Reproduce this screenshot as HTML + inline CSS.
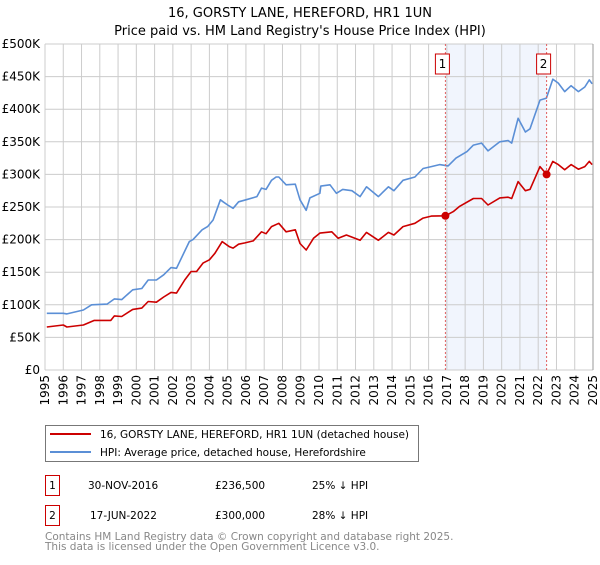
<!DOCTYPE html>
<html><head><meta charset="utf-8"><style>
body{margin:0;background:#fff;font-family:"Liberation Sans","DejaVu Sans",sans-serif;}
svg text{font-family:"DejaVu Sans","Liberation Sans",sans-serif;}
</style></head><body>
<svg id="chart" width="600" height="560" xmlns="http://www.w3.org/2000/svg">
<text x="300" y="17" text-anchor="middle" font-size="13">16, GORSTY LANE, HEREFORD, HR1 1UN</text>
<text x="300" y="35" text-anchor="middle" font-size="13">Price paid vs. HM Land Registry's House Price Index (HPI)</text>
<g id="plot"></g>
<g>
<rect x="45.5" y="425.5" width="373" height="36" fill="#fff" stroke="#777"/>
<line x1="50" y1="434" x2="91" y2="434" stroke="#cc0000" stroke-width="2"/>
<text x="100" y="438" font-size="10.5">16, GORSTY LANE, HEREFORD, HR1 1UN (detached house)</text>
<line x1="50" y1="452" x2="91" y2="452" stroke="#5b8fd6" stroke-width="2"/>
<text x="100" y="456" font-size="10.5">HPI: Average price, detached house, Herefordshire</text>
</g>
<g font-size="10.5">
<rect x="45.5" y="475.5" width="14" height="20" fill="#fff" stroke="#cc0000"/>
<text x="52.5" y="489" text-anchor="middle">1</text>
<text x="88" y="489">30-NOV-2016</text>
<text x="215" y="489">£236,500</text>
<text x="312" y="489">25% ↓ HPI</text>
</g>
<g font-size="10.5">
<rect x="45.5" y="505.5" width="14" height="20" fill="#fff" stroke="#cc0000"/>
<text x="52.5" y="519" text-anchor="middle">2</text>
<text x="90" y="519">17-JUN-2022</text>
<text x="215" y="519">£300,000</text>
<text x="312" y="519">28% ↓ HPI</text>
</g>
<text x="45" y="540" font-size="10.5" fill="#888">Contains HM Land Registry data © Crown copyright and database right 2025.</text>
<text x="45" y="550" font-size="10.5" fill="#888">This data is licensed under the Open Government Licence v3.0.</text>
</svg>
<script>
const hpiYears=[1995.1,1996.0,1996.2,1997.1,1997.55,1998.4,1998.8,1999.2,1999.8,2000.3,2000.65,2001.1,2001.5,2001.9,2002.2,2002.9,2003.1,2003.6,2003.9,2004.2,2004.6,2004.75,2005.0,2005.3,2005.6,2006.0,2006.6,2006.85,2007.1,2007.4,2007.65,2007.8,2008.2,2008.7,2008.96,2009.3,2009.5,2010.05,2010.1,2010.6,2010.95,2011.3,2011.8,2012.25,2012.6,2013.25,2013.8,2014.1,2014.6,2015.25,2015.7,2016.15,2016.6,2017.07,2017.5,2018.1,2018.45,2018.9,2019.25,2019.9,2020.35,2020.55,2020.9,2021.3,2021.55,2022.1,2022.45,2022.8,2023.1,2023.45,2023.8,2024.2,2024.55,2024.8,2024.95];
const hpiValues=[87,87,86,92,100,101,109,108,123,125,138,138,146,157,156,197,200,215,220,230,261,258,253,248,258,261,266,279,277,291,296,296,284,285,261,245,264,271,282,284,271,277,275,266,281,266,281,275,291,296,309,312,315,313,325,335,345,348,336,350,352,348,386,365,370,414,417,446,440,427,436,427,434,445,439];
const redYears=[1995.1,1996.0,1996.2,1997.1,1997.7,1998.6,1998.8,1999.2,1999.8,2000.3,2000.65,2001.1,2001.5,2001.9,2002.2,2002.65,2003.0,2003.3,2003.65,2004.0,2004.3,2004.7,2005.1,2005.3,2005.6,2005.95,2006.4,2006.85,2007.1,2007.4,2007.8,2008.2,2008.7,2008.96,2009.3,2009.7,2010.05,2010.7,2011.05,2011.5,2012.25,2012.6,2013.25,2013.8,2014.1,2014.6,2015.25,2015.7,2016.15,2016.92,2017.35,2017.7,2018.45,2018.9,2019.25,2019.9,2020.35,2020.55,2020.9,2021.3,2021.55,2022.1,2022.46,2022.8,2023.1,2023.45,2023.8,2024.2,2024.55,2024.8,2024.95];
const redValues=[66,69,66,69,76,76,83,82,93,95,105,104,112,119,118,138,151,151,164,169,179,197,189,187,193,195,198,212,209,220,225,212,215,194,184,202,210,212,202,207,199,211,199,211,207,220,225,233,236,236.5,243,251,263,263,253,264,265,263,289,275,277,312,300,320,315,307,315,308,312,320,315];
const saleYears=[2016.92,2022.46];
const salePrices=[236.5,300];
const saleLabels=["1","2"];
const yTicks=[0,50,100,150,200,250,300,350,400,450,500];
const yTickLabels=["£0","£50K","£100K","£150K","£200K","£250K","£300K","£350K","£400K","£450K","£500K"];
const xTicks=[1995,1996,1997,1998,1999,2000,2001,2002,2003,2004,2005,2006,2007,2008,2009,2010,2011,2012,2013,2014,2015,2016,2017,2018,2019,2020,2021,2022,2023,2024,2025];

const NS="http://www.w3.org/2000/svg";
const X0=45,X1=593,Y0=370,Y1=44;
const xs=y=>X0+(y-1995)/30*(X1-X0);
const ys=v=>Y0-v/500*(Y0-Y1);
const plot=document.getElementById('plot');
function mk(tag,attrs,parent){const e=document.createElementNS(NS,tag);for(const k in attrs)e.setAttribute(k,attrs[k]);(parent||plot).appendChild(e);return e;}
const sh=mk('rect',{x:xs(saleYears[0]),y:Y1,width:xs(saleYears[1])-xs(saleYears[0]),height:Y0-Y1,fill:'#eef3fc',opacity:0.8});


xTicks.forEach(t=>{
  const l=mk('line',{x1:xs(t),x2:xs(t),y1:Y1,y2:Y0,stroke:'#cccccc'});
  
  
  const tx=mk('text',{x:0,y:0,'font-size':12,'text-anchor':'end',transform:`translate(${xs(t)+4},${Y0+5}) rotate(-90)`});
  tx.textContent=t;
  
  
});
yTicks.forEach((t,i)=>{
  const l=mk('line',{x1:X0,x2:X1,y1:ys(t),y2:ys(t),stroke:'#cccccc'});
  
  
  const tx=mk('text',{x:X0-5,y:ys(t)+4,'font-size':12,'text-anchor':'end'});
  tx.textContent=yTickLabels[i];
  
  
});
const edge=mk('line',{x1:X1,x2:X1,y1:Y1,y2:Y0,stroke:'#999'});


function path(xa,va,col,name){
  const d=xa.map((y,i)=>(i?'L':'M')+xs(y).toFixed(1)+','+ys(va[i]).toFixed(1)).join('');
  const p=mk('path',{d:d,fill:'none',stroke:col,'stroke-width':1.6,'stroke-linejoin':'round'});
  
  
}
path(hpiYears,hpiValues,'#5b8fd6','hpi-line');
saleYears.forEach((s,i)=>{
  const l=mk('line',{x1:xs(s),x2:xs(s),y1:Y1,y2:Y0,stroke:'#e06060','stroke-dasharray':'2,2'});
  
  
});
path(redYears,redValues,'#cc0000','price-paid-line');
saleYears.forEach((s,i)=>{
  const c=mk('circle',{cx:xs(s),cy:ys(salePrices[i]),r:4,fill:'#cc0000'});
  
  
  const r=mk('rect',{x:xs(s)-10,y:54,width:14,height:20,fill:'#fff',stroke:'#cc0000'});
  
  
  const t=mk('text',{x:xs(s)-3,y:68,'font-size':12,'text-anchor':'middle'});
  t.textContent=saleLabels[i];
  
  
});
</script>
</body></html>
